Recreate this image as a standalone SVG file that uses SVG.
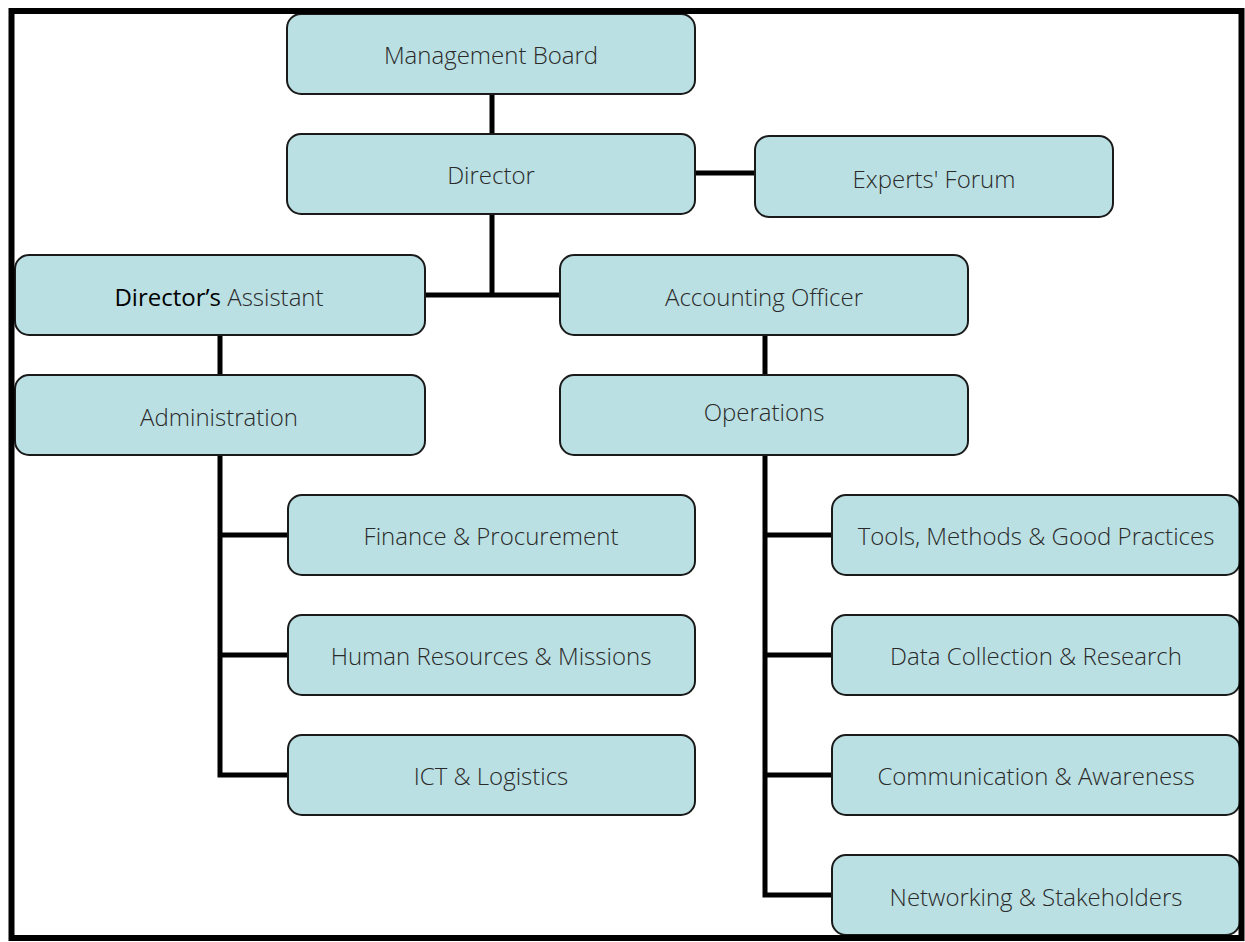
<svg xmlns="http://www.w3.org/2000/svg" width="1245" height="942" viewBox="0 0 1245 942">
<style>
.box{fill:#bae0e3;stroke:#1a1a1a;stroke-width:2}
.lbl{font-family:"Open Sans","Liberation Sans",sans-serif;font-weight:300;font-size:24px;fill:#2a2a2a;text-anchor:middle;dominant-baseline:central}
.con{stroke:#000;stroke-width:5;fill:none}
</style>
<rect x="0" y="0" width="1245" height="942" fill="#fff"/>
<g id="connectors">
<line class="con" x1="492" y1="94" x2="492" y2="134"/>
<line class="con" x1="695" y1="173" x2="755" y2="173"/>
<line class="con" x1="492" y1="214" x2="492" y2="295"/>
<line class="con" x1="425" y1="295" x2="560" y2="295"/>
<line class="con" x1="220" y1="335" x2="220" y2="375"/>
<line class="con" x1="765" y1="335" x2="765" y2="375"/>
<polyline class="con" points="220,455 220,775 288,775"/>
<line class="con" x1="220" y1="535" x2="288" y2="535"/>
<line class="con" x1="220" y1="655" x2="288" y2="655"/>
<polyline class="con" points="765,455 765,895 832,895"/>
<line class="con" x1="765" y1="535" x2="832" y2="535"/>
<line class="con" x1="765" y1="655" x2="832" y2="655"/>
<line class="con" x1="765" y1="775" x2="832" y2="775"/>
</g>
<g id="management-board"><rect class="box" x="287" y="14" width="408" height="80" rx="14"/><text class="lbl" x="491" y="54">Management Board</text></g>
<g id="director"><rect class="box" x="287" y="134" width="408" height="80" rx="14"/><text class="lbl" x="491" y="174">Director</text></g>
<g id="experts-forum"><rect class="box" x="755" y="136" width="358" height="81" rx="14"/><text class="lbl" x="934" y="178">Experts' Forum</text></g>
<g id="directors-assistant"><rect class="box" x="15" y="255" width="410" height="80" rx="14"/><text class="lbl" x="219" y="296"><tspan style="font-weight:400;fill:#000">Director’s</tspan> Assistant</text></g>
<g id="accounting-officer"><rect class="box" x="560" y="255" width="408" height="80" rx="14"/><text class="lbl" x="764" y="296">Accounting Officer</text></g>
<g id="administration"><rect class="box" x="15" y="375" width="410" height="80" rx="14"/><text class="lbl" x="219" y="416">Administration</text></g>
<g id="operations"><rect class="box" x="560" y="375" width="408" height="80" rx="14"/><text class="lbl" x="764" y="411">Operations</text></g>
<g id="finance"><rect class="box" x="288" y="495" width="407" height="80" rx="14"/><text class="lbl" x="491" y="535">Finance &amp; Procurement</text></g>
<g id="hr"><rect class="box" x="288" y="615" width="407" height="80" rx="14"/><text class="lbl" x="491" y="655">Human Resources &amp; Missions</text></g>
<g id="ict"><rect class="box" x="288" y="735" width="407" height="80" rx="14"/><text class="lbl" x="491" y="775">ICT &amp; Logistics</text></g>
<g id="tools"><rect class="box" x="832" y="495" width="408" height="80" rx="14"/><text class="lbl" x="1036" y="535">Tools, Methods &amp; Good Practices</text></g>
<g id="data"><rect class="box" x="832" y="615" width="408" height="80" rx="14"/><text class="lbl" x="1036" y="655">Data Collection &amp; Research</text></g>
<g id="communication"><rect class="box" x="832" y="735" width="408" height="80" rx="14"/><text class="lbl" x="1036" y="775">Communication &amp; Awareness</text></g>
<g id="networking"><rect class="box" x="832" y="855" width="408" height="80" rx="14"/><text class="lbl" x="1036" y="896">Networking &amp; Stakeholders</text></g>
<rect x="11.5" y="11" width="1230" height="927" fill="none" stroke="#000" stroke-width="6"/>
</svg>
